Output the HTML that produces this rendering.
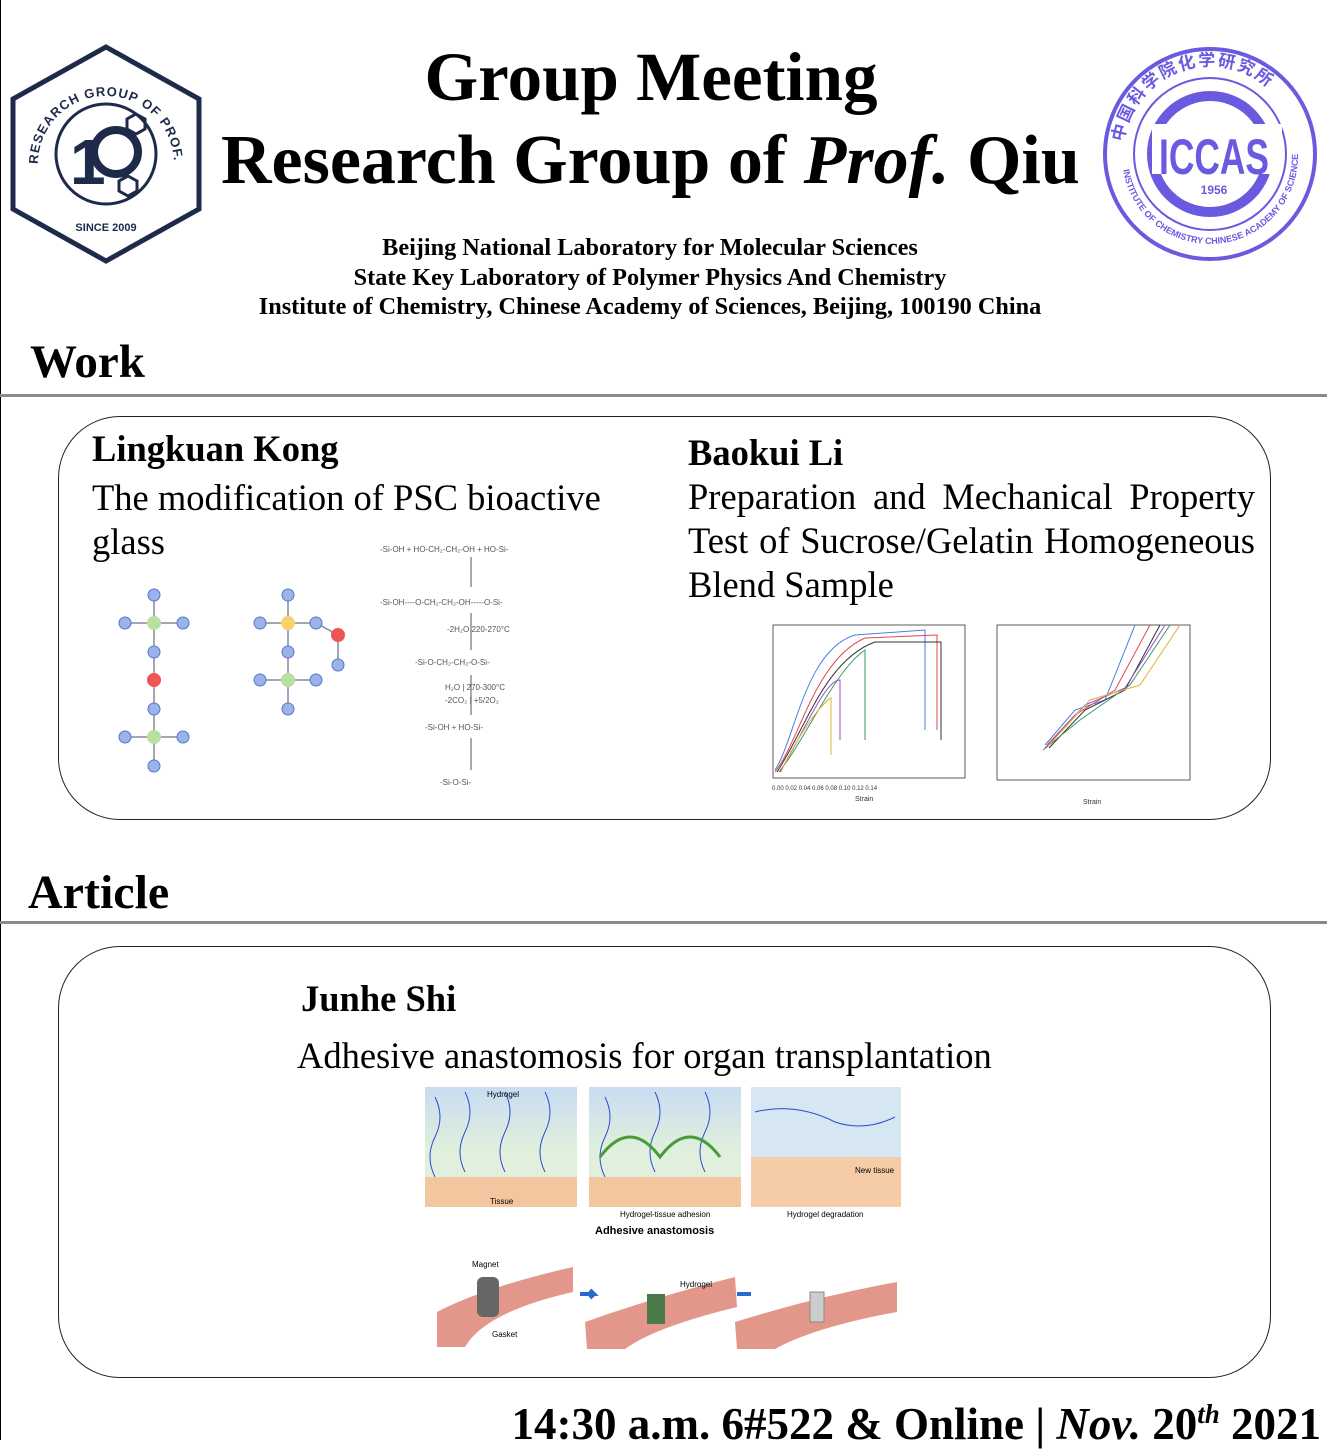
<!DOCTYPE html>
<html><head><meta charset="utf-8"><style>
body{margin:0;width:1327px;height:1440px;background:#fff;position:relative;overflow:hidden;font-family:"Liberation Serif",serif;color:#000}
.a{position:absolute;white-space:nowrap}
.b{font-weight:bold}
.line{position:absolute;left:0;width:1327px;height:3px;background:#8a8a8a}
.box{position:absolute;border:1.5px solid #222;border-radius:62px}
</style></head><body>
<div style="position:absolute;left:0;top:0;width:1px;height:1440px;background:#000"></div>
<!-- left logo -->
<svg class="a" style="left:8px;top:44px" width="196" height="220" viewBox="0 0 196 220">
<defs><path id="lc" d="M30,120 A68,68 0 1,1 166,120"/></defs>
<polygon points="98,3 191,55 191,165 98,217 5,165 5,55" fill="#fff" stroke="#1d2a4a" stroke-width="5"/>
<circle cx="98" cy="110" r="50" fill="none" stroke="#1d2a4a" stroke-width="3"/>
<text font-size="13" font-weight="bold" fill="#1d2a4a" font-family="Liberation Sans" letter-spacing="1"><textPath href="#lc">RESEARCH GROUP OF PROF. DONG QIU</textPath></text>
<text x="62" y="140" font-size="64" font-weight="bold" fill="#1d2a4a" font-family="Liberation Sans">1</text>
<circle cx="108" cy="108" r="22" fill="none" stroke="#1d2a4a" stroke-width="8"/>
<polygon points="128,70 137,75 137,85 128,90 119,85 119,75" fill="none" stroke="#1d2a4a" stroke-width="3"/>
<polygon points="120,132 129,137 129,147 120,152 111,147 111,137" fill="none" stroke="#1d2a4a" stroke-width="3"/>
<text x="98" y="187" font-size="11" text-anchor="middle" font-weight="bold" fill="#1d2a4a" font-family="Liberation Sans">SINCE 2009</text>
</svg>
<!-- right logo -->
<svg class="a" style="left:1102px;top:46px" width="216" height="216" viewBox="0 0 216 216">
<defs><path id="rt" d="M22,120 A87,87 0 1,1 194,120"/><path id="rb" d="M20,110 A88,88 0 0,0 196,110"/></defs>
<circle cx="108" cy="108" r="105" fill="#fff" stroke="#6a5ae0" stroke-width="4"/>
<circle cx="108" cy="108" r="76" fill="none" stroke="#6a5ae0" stroke-width="2"/>
<circle cx="108" cy="108" r="58" fill="none" stroke="#6a5ae0" stroke-width="10"/>
<rect x="50" y="78" width="130" height="50" fill="#fff"/>
<text x="112" y="128" font-size="50" text-anchor="middle" font-weight="bold" fill="#6a5ae0" font-family="Liberation Sans" textLength="110" lengthAdjust="spacingAndGlyphs">ICCAS</text>
<text x="112" y="148" font-size="12" text-anchor="middle" font-weight="bold" fill="#6a5ae0" font-family="Liberation Sans">1956</text>
<text font-size="17" font-weight="bold" fill="#6a5ae0" font-family="Noto Sans CJK SC,sans-serif" letter-spacing="2"><textPath href="#rt" startOffset="8%">中国科学院化学研究所</textPath></text>
<text font-size="9" font-weight="bold" fill="#6a5ae0" font-family="Liberation Sans"><textPath href="#rb" startOffset="5%">INSTITUTE OF CHEMISTRY  CHINESE ACADEMY OF SCIENCES</textPath></text>
</svg>
<div class="a b" style="left:0;width:1302px;text-align:center;top:37px;font-size:69px;line-height:80px">Group Meeting</div>
<div class="a b" style="left:221px;top:121px;font-size:70px;line-height:80px">Research Group of <i>Prof.</i> Qiu</div>
<div class="a b" style="left:0;width:1300px;text-align:center;top:234px;font-size:24px;line-height:29.5px;transform:scaleX(1.01)">Beijing National Laboratory for Molecular Sciences<br>State Key Laboratory of Polymer Physics And Chemistry<br>Institute of Chemistry, Chinese Academy of Sciences, Beijing, 100190 China</div>
<div class="a b" style="left:30px;top:335px;font-size:47px">Work</div>
<div class="line" style="top:394px"></div>
<div class="box" style="left:58px;top:416px;width:1211px;height:402px"></div>
<div class="a b" style="left:92px;top:427px;font-size:36.5px">Lingkuan Kong</div>
<div class="a" style="left:92px;top:476px;font-size:36.5px;line-height:44px">The modification of PSC bioactive<br>glass</div>
<div class="a b" style="left:688px;top:431px;font-size:36.5px">Baokui Li</div>
<div style="position:absolute;left:688px;top:475px;width:567px;font-size:36.5px;line-height:44px;text-align:justify;text-align-last:left">Preparation and Mechanical Property Test&nbsp;of&nbsp;Sucrose/Gelatin&nbsp;Homogeneous Blend Sample</div>
<!-- molecules -->
<svg class="a" style="left:110px;top:580px" width="250" height="200">
<g stroke="#889" stroke-width="1.5">
<line x1="44" y1="15" x2="44" y2="186"/><line x1="15" y1="43" x2="73" y2="43"/><line x1="15" y1="157" x2="73" y2="157"/>
<line x1="178" y1="15" x2="178" y2="129"/><line x1="150" y1="43" x2="206" y2="43"/><line x1="150" y1="100" x2="206" y2="100"/><line x1="206" y1="43" x2="228" y2="55"/><line x1="228" y1="55" x2="228" y2="85"/>
</g>
<g fill="#9bb3e8" stroke="#5577cc">
<circle cx="44" cy="15" r="6"/><circle cx="15" cy="43" r="6"/><circle cx="73" cy="43" r="6"/><circle cx="44" cy="72" r="6"/><circle cx="44" cy="129" r="6"/><circle cx="15" cy="157" r="6"/><circle cx="73" cy="157" r="6"/><circle cx="44" cy="186" r="6"/>
<circle cx="178" cy="15" r="6"/><circle cx="150" cy="43" r="6"/><circle cx="206" cy="43" r="6"/><circle cx="178" cy="72" r="6"/><circle cx="150" cy="100" r="6"/><circle cx="206" cy="100" r="6"/><circle cx="178" cy="129" r="6"/><circle cx="228" cy="85" r="6"/>
</g>
<circle cx="44" cy="43" r="7" fill="#b8e0a0"/><circle cx="44" cy="157" r="7" fill="#b8e0a0"/><circle cx="178" cy="100" r="7" fill="#b8e0a0"/>
<circle cx="178" cy="43" r="7" fill="#f5d36a"/><circle cx="44" cy="100" r="7" fill="#f05555"/><circle cx="228" cy="55" r="7" fill="#f05555"/>
</svg>
<svg class="a" style="left:375px;top:535px" width="200" height="265" font-family="Liberation Sans" font-size="8" fill="#555">
<text x="5" y="17">-Si-OH + HO-CH₂-CH₂-OH + HO-Si-</text>
<line x1="96" y1="22" x2="96" y2="52" stroke="#555"/>
<text x="5" y="70">-Si-OH----O-CH₂-CH₂-OH-----O-Si-</text>
<text x="72" y="97">-2H₂O  220-270°C</text>
<line x1="96" y1="78" x2="96" y2="115" stroke="#555"/>
<text x="40" y="130">-Si-O-CH₂-CH₂-O-Si-</text>
<text x="70" y="155">H₂O | 270-300°C</text><text x="70" y="168">-2CO₂ | +5/2O₂</text>
<line x1="96" y1="140" x2="96" y2="180" stroke="#555"/>
<text x="50" y="195">-Si-OH + HO-Si-</text>
<line x1="96" y1="203" x2="96" y2="235" stroke="#555"/>
<text x="65" y="250">-Si-O-Si-</text>
</svg>
<!-- charts -->
<svg class="a" style="left:745px;top:620px" width="450" height="190" font-family="Liberation Sans" font-size="6" fill="#333">
<rect x="28" y="5" width="192" height="153" fill="none" stroke="#333" stroke-width="0.8"/>
<rect x="252" y="5" width="193" height="155" fill="none" stroke="#333" stroke-width="0.8"/>
<path d="M30,150 C50,120 60,30 110,15 L180,10 L180,110" fill="none" stroke="#4a7de0"/>
<path d="M30,152 C55,120 70,40 120,18 L192,15 L192,110" fill="none" stroke="#e04a4a"/>
<path d="M32,152 C60,110 80,40 130,22 L196,22 L196,120" fill="none" stroke="#333"/>
<path d="M34,152 C60,120 90,50 120,30 L120,120" fill="none" stroke="#3a9a5a"/>
<path d="M35,152 C60,110 80,60 95,60 L95,120" fill="none" stroke="#9a4ad0"/>
<path d="M36,152 C55,110 80,80 86,78 L86,135" fill="none" stroke="#e0b030"/>
<path d="M300,125 L330,90 L360,80 L390,5" fill="none" stroke="#4a7de0"/>
<path d="M302,125 L330,95 L370,70 L405,5" fill="none" stroke="#e04a4a"/>
<path d="M304,128 L340,90 L380,70 L415,5" fill="none" stroke="#333"/>
<path d="M298,130 L335,100 L385,65 L425,5" fill="none" stroke="#3a9a5a"/>
<path d="M300,128 L340,85 L380,68 L420,5" fill="none" stroke="#9a4ad0"/>
<path d="M303,126 L345,80 L395,65 L435,5" fill="none" stroke="#e0b030"/>
<text x="110" y="181" font-size="7">Strain</text><text x="338" y="184" font-size="7">Strain</text>
<text x="27" y="170">0.00   0.02   0.04   0.06   0.08   0.10   0.12   0.14</text>
</svg>
<div class="a b" style="left:28px;top:865px;font-size:48px">Article</div>
<div class="line" style="top:921px"></div>
<div class="box" style="left:58px;top:946px;width:1211px;height:430px"></div>
<div class="a b" style="left:301px;top:977px;font-size:36.5px">Junhe Shi</div>
<div class="a" style="left:297px;top:1034px;font-size:36.5px">Adhesive anastomosis for organ transplantation</div>
<!-- figure -->
<svg class="a" style="left:425px;top:1087px" width="478" height="265" font-family="Liberation Sans" font-size="8">
<defs><linearGradient id="g" x1="0" y1="0" x2="0" y2="1"><stop offset="0" stop-color="#c8dcf2"/><stop offset="0.7" stop-color="#e0f0dc"/></linearGradient></defs>
<rect x="0" y="0" width="152" height="90" fill="url(#g)"/><rect x="0" y="90" width="152" height="30" fill="#f3c6a0"/>
<rect x="164" y="0" width="152" height="90" fill="url(#g)"/><rect x="164" y="90" width="152" height="30" fill="#f3c6a0"/>
<rect x="326" y="0" width="150" height="70" fill="#d6e6f3"/><rect x="326" y="70" width="150" height="50" fill="#f5cba8"/>
<path d="M10,10 q10,20 0,40 q-10,20 0,40 M40,5 q10,20 0,40 q-10,20 0,40 M80,5 q10,20 0,40 q-10,20 0,40 M120,5 q10,20 0,40 q-10,20 0,40" fill="none" stroke="#2a4ad0"/>
<path d="M180,10 q10,20 0,40 q-10,20 0,40 M230,5 q10,20 0,40 q-10,20 0,40 M280,5 q10,20 0,40 q-10,20 0,40" fill="none" stroke="#2a4ad0"/>
<path d="M175,70 q30,-40 60,0 q30,-40 60,0" fill="none" stroke="#4a9a3a" stroke-width="3"/>
<path d="M330,25 q40,-10 80,10 q30,10 60,-5" fill="none" stroke="#2a4ad0"/>
<text x="62" y="10" fill="#000">Hydrogel</text><text x="65" y="117">Tissue</text><text x="430" y="86">New tissue</text>
<text x="195" y="130">Hydrogel-tissue adhesion</text><text x="362" y="130">Hydrogel degradation</text>
<text x="170" y="147" font-size="11" font-weight="bold">Adhesive anastomosis</text>
<path d="M12,260 L12,225 Q60,200 148,180 L148,205 Q60,225 40,260Z" fill="#e3968a"/>
<rect x="52" y="190" width="22" height="40" rx="6" fill="#666"/>
<path d="M162,262 L160,235 Q230,210 310,190 L312,220 Q230,240 200,262Z" fill="#e3968a"/>
<rect x="222" y="207" width="18" height="30" fill="#4a7a4a"/>
<path d="M312,262 L310,235 Q390,210 472,195 L472,225 Q390,240 350,262Z" fill="#e3968a"/>
<rect x="385" y="205" width="14" height="30" fill="#ccc" stroke="#888"/>
<path d="M155,207 h14 l-4,-4 M169,207 l-4,4" stroke="#2a6ad0" stroke-width="4" fill="none"/>
<path d="M312,207 h14" stroke="#2a6ad0" stroke-width="4"/>
<text x="47" y="180">Magnet</text><text x="67" y="250">Gasket</text><text x="255" y="200">Hydrogel</text>
</svg>
<div class="a b" style="right:6px;top:1386px;font-size:45px;line-height:56px">14:30 a.m. 6#522 &amp; Online | <i>Nov.</i> 20<sup style="font-size:27px;font-style:italic">th</sup> 2021</div>
</body></html>
